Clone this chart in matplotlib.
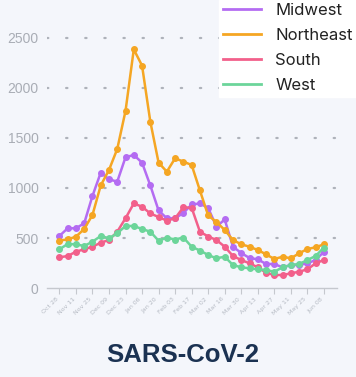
import matplotlib
matplotlib.use('Agg')
import matplotlib.pyplot as plt
import numpy as np

# weekly values, Oct 28 -> Jun 08
weeks = np.arange(33)
tick_labels = ['Oct 28', 'Nov 11', 'Nov 25', 'Dec 09', 'Dec 23', 'Jan 06', 'Jan 20', 'Feb 03',
               'Feb 17', 'Mar 02', 'Mar 16', 'Mar 30', 'Apr 13', 'Apr 27', 'May 11', 'May 25', 'Jun 08']

midwest = [520, 597, 597, 647, 920, 1153, 1087, 1063, 1307, 1330, 1253, 1025, 775, 697, 697, 750,
           835, 845, 800, 613, 685, 413, 350, 300, 287, 240, 240, 207, 230, 230, 247, 280, 363]
northeast = [473, 487, 513, 590, 730, 1025, 1180, 1390, 1770, 2385, 2223, 1663, 1253, 1163, 1297, 1263,
             1230, 975, 725, 660, 580, 480, 437, 413, 380, 337, 290, 313, 297, 347, 390, 407, 437]
south = [307, 320, 363, 387, 413, 453, 480, 563, 697, 845, 813, 745, 710, 673, 697, 807,
         802, 563, 515, 480, 413, 320, 280, 247, 207, 153, 130, 130, 147, 163, 187, 247, 280]
west = [387, 440, 437, 420, 463, 520, 497, 547, 620, 620, 590, 563, 473, 503, 485, 505,
        413, 375, 330, 297, 313, 230, 207, 197, 187, 180, 163, 207, 230, 240, 280, 320, 405]

series = [('Midwest', midwest, '#B46CF2'),
          ('Northeast', northeast, '#F5A623'),
          ('South', south, '#F2608B'),
          ('West', west, '#6CD59A')]

bg = '#F4F6FB'
fig = plt.figure(figsize=(3.56, 3.77), dpi=100, facecolor=bg)
ax = fig.add_axes([0.132, 0.236, 0.815, 0.69], facecolor=bg)

for name, vals, col in series:
    ax.plot(weeks, vals, color=col, lw=1.8, marker='o', ms=4, label=name, zorder=3)

ax.set_xlim(-1.5, 33.6)
ax.set_ylim(0, 2600)
ax.set_yticks([0, 500, 1000, 1500, 2000, 2500])
ax.set_xticks(weeks[::2])
ax.set_xticklabels(tick_labels, rotation=45, ha='right', fontsize=4.5, color='#B5BAC3')
ax.tick_params(axis='y', length=0, pad=6, labelsize=10, labelcolor='#A9ADB5')
ax.tick_params(axis='x', length=4, width=0.8, color='#C5C8CE', pad=2)
for lab in ax.get_yticklabels():
    lab.set_family(['Liberation Sans', 'DejaVu Sans'])

for s in ['top', 'right', 'left']:
    ax.spines[s].set_visible(False)
ax.spines['bottom'].set_color('#C5C8CE')
ax.spines['bottom'].set_linewidth(1)

for yv in [500, 1000, 1500, 2000, 2500]:
    ax.axhline(yv, color='#AEB2BA', lw=1.6, linestyle=(0, (0.6, 8)), dash_capstyle='round', zorder=1)

leg = fig.legend(loc='upper right', bbox_to_anchor=(1.0, 1.0), frameon=True, fancybox=False,
                 facecolor='white', edgecolor='white', framealpha=1,
                 handlelength=2.3, handletextpad=0.85, labelspacing=0.6, borderpad=0.2,
                 borderaxespad=0, prop={'family': ['Inter', 'DejaVu Sans'], 'size': 12})
for h in leg.get_lines():
    h.set_marker('')
    h.set_linewidth(2)
for t in leg.get_texts():
    t.set_color('#222222')

fig.text(0.514, 0.058, 'SARS-CoV-2', ha='center', va='center', fontsize=18.5, fontweight='bold',
         color='#1B3252', family=['Liberation Sans', 'DejaVu Sans'])

fig.savefig('out.png', dpi=100, facecolor=bg)
